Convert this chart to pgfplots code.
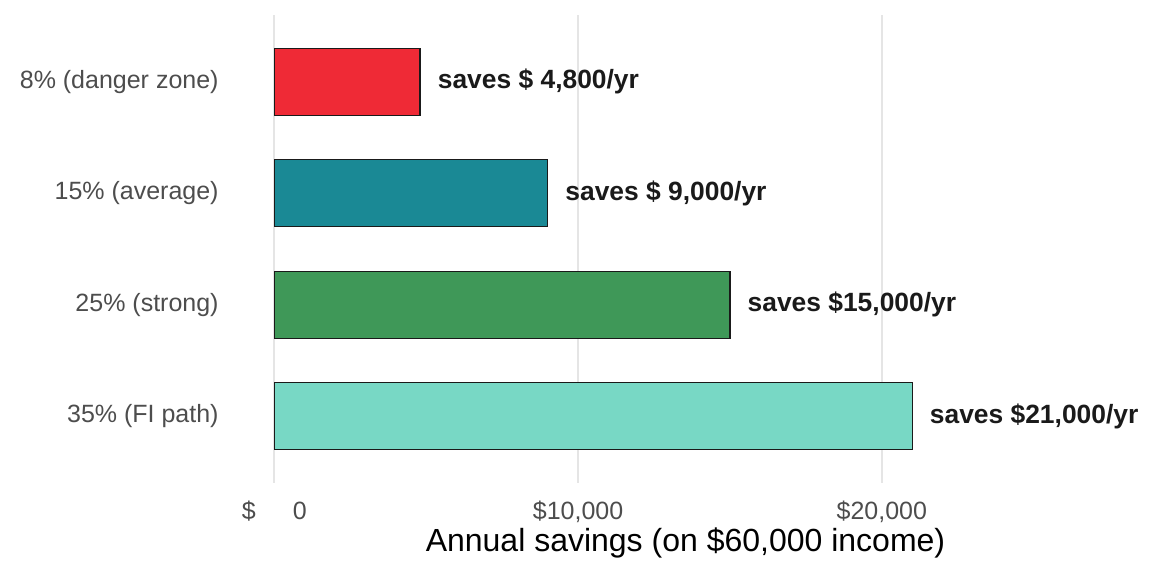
\documentclass[border=0pt]{standalone}
\usepackage{pgfplots}
\pgfplotsset{compat=1.18}
\usepackage{fontspec}
\setmainfont{Liberation Sans}
\definecolor{cRed}{HTML}{EF2A36}
\definecolor{cTeal}{HTML}{1A8995}
\definecolor{cGreen}{HTML}{3F9858}
\definecolor{cAqua}{HTML}{78D8C5}
\definecolor{tickgray}{HTML}{4D4D4D}
\definecolor{gridgray}{HTML}{E5E5E5}
\definecolor{txt}{HTML}{1A1A1A}
\begin{document}
\begin{tikzpicture}
\useasboundingbox (-122pt,-46.5pt) rectangle (454pt,241.5pt);
\begin{axis}[
  at={(0,0)}, anchor=south west,
  scale only axis,
  width=446.5pt, height=234pt,
  xmin=-1000, xmax=28400,
  ymin=-0.6, ymax=3.6,
  enlargelimits=false,
  scaled x ticks=false,
  xbar, bar shift=0pt, bar width=33.5pt,
  axis line style={draw=none},
  major tick length=0pt,
  tick style={draw=none},
  xmajorgrids,
  grid style={color=gridgray, line width=1pt},
  xtick={0,10000,20000},
  xticklabels={{\$\hspace{18.5pt}0}, {\$10,000}, {\$20,000}},
  ytick={0,1,2,3},
  yticklabels={35\% (FI path), 25\% (strong), 15\% (average), 8\% (danger zone)},
  ticklabel style={font=\fontsize{12.5}{14}\selectfont, text=tickgray},
  xticklabel style={anchor=north, inner sep=0pt, yshift=-9pt},
  yticklabel style={anchor=east, inner sep=0pt, xshift=-12.5pt},
  xlabel={Annual savings (on \$60,000 income)},
  xlabel style={at={(axis description cs:0.5,0)}, anchor=north, inner sep=0pt, yshift=-22pt, xshift=-2.5pt, font=\fontsize{16}{18}\selectfont, text=black},
  point meta=explicit symbolic,
  nodes near coords,
  nodes near coords style={anchor=west, inner sep=0pt, xshift=8.5pt, font=\fontsize{13.2}{15}\selectfont\bfseries, text=txt},
  clip=false,
]
\addplot[fill=cAqua, draw=txt, line width=0.7pt] coordinates {(21000,0) [{saves \$21,000/yr}]};
\addplot[fill=cGreen, draw=txt, line width=0.7pt] coordinates {(15000,1) [{saves \$15,000/yr}]};
\addplot[fill=cTeal, draw=txt, line width=0.7pt] coordinates {(9000,2) [{saves \$ 9,000/yr}]};
\addplot[fill=cRed, draw=txt, line width=0.7pt] coordinates {(4800,3) [{saves \$ 4,800/yr}]};
\end{axis}
\end{tikzpicture}
\end{document}
